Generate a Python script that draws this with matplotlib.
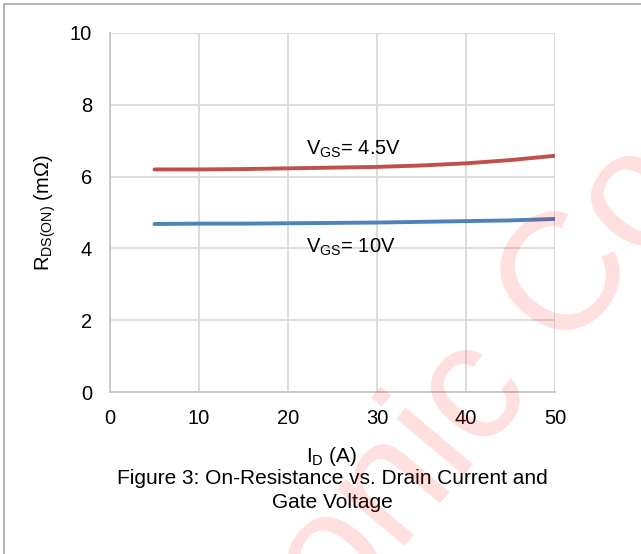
import matplotlib
matplotlib.use("Agg")
import matplotlib.pyplot as plt
from matplotlib.patches import Rectangle

plt.rcParams['font.family'] = ['Liberation Sans', 'DejaVu Sans']
plt.rcParams['mathtext.fontset'] = 'custom'
plt.rcParams['mathtext.rm'] = 'Liberation Sans'
plt.rcParams['mathtext.it'] = 'Liberation Sans:italic'

# drain current (A) and on-resistance (mOhm) at two gate voltages
drain_current = [5, 10, 15, 20, 25, 30, 35, 40, 45, 50]
rds_vgs_4v5 = [6.20, 6.20, 6.21, 6.23, 6.25, 6.27, 6.31, 6.37, 6.46, 6.58]
rds_vgs_10v = [4.68, 4.69, 4.69, 4.70, 4.71, 4.72, 4.74, 4.76, 4.78, 4.82]

x_ticks = [0, 10, 20, 30, 40, 50]
y_ticks = [0, 2, 4, 6, 8, 10]

fig = plt.figure(figsize=(6.41, 5.54), dpi=100)
ax = fig.add_axes([110 / 641, 1 - 392 / 554, 445 / 641, 359 / 554])

ax.plot(drain_current, rds_vgs_4v5, color='#C0504D', lw=2.8, solid_capstyle='round', zorder=3)
ax.plot(drain_current, rds_vgs_10v, color='#4F81BD', lw=2.8, solid_capstyle='round', zorder=3)

ax.set_xlim(0, 50)
ax.set_ylim(0, 10)
ax.set_xticks(x_ticks)
ax.set_yticks(y_ticks)
ax.grid(True, color='#d9d9d9', lw=1.3)
ax.set_axisbelow(True)
for side in ['top', 'right']:
    ax.spines[side].set_visible(False)
for side in ['left', 'bottom']:
    ax.spines[side].set_color('#c8c8c8')
    ax.spines[side].set_linewidth(1.3)
ax.tick_params(length=0, labelsize=14.5, colors='black')
ax.tick_params(axis='y', pad=13)
ax.tick_params(axis='x', pad=12)

ax.text(22.0, 6.60, r"V$_\mathrm{GS}$= 4.5V", fontsize=14.5, ha='left', va='baseline')
ax.text(22.0, 3.87, r"V$_\mathrm{GS}$= 10V", fontsize=14.5, ha='left', va='baseline')

ax.set_ylabel(r"R$_\mathrm{DS(ON)}$ (m$\Omega$)", fontsize=14.5)
ax.yaxis.set_label_coords(-52 / 445, 0.5)

fig.text(332 / 641, 1 - 456 / 554, r"I$_\mathrm{D}$ (A)", fontsize=15, ha='center', va='center')
fig.text(332 / 641, 1 - 478 / 554, "Figure 3: On-Resistance vs. Drain Current and",
         fontsize=15, ha='center', va='center')
fig.text(332 / 641, 1 - 502 / 554, "Gate Voltage", fontsize=15, ha='center', va='center')

# pale diagonal watermark
wm_x, wm_y = 564 / 641, 1 - 356 / 554
fig.text(wm_x, wm_y, "Electronic ", fontsize=120, color='#ff0000', alpha=0.13,
         rotation=50, rotation_mode='anchor', ha='right', va='baseline')
fig.text(wm_x, wm_y, "Co., Ltd.", fontsize=120, color='#ff0000', alpha=0.13,
         rotation=50, rotation_mode='anchor', ha='left', va='baseline')

# outer frame
fig.patches.append(Rectangle((4 / 641, -0.1), 1.2, 1.1 - 3.5 / 554, transform=fig.transFigure,
                             fill=False, edgecolor='#a6a6a6', lw=1.2))

fig.savefig("out.png", dpi=100)
